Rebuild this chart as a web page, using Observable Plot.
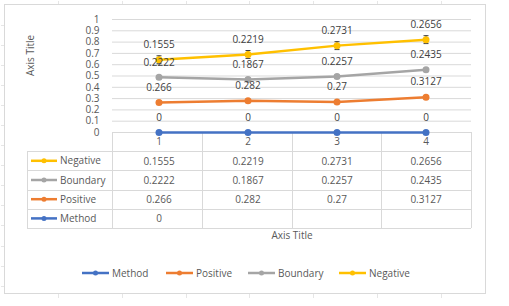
<!DOCTYPE html>
<html><head><meta charset="utf-8">
<script src="https://cdn.jsdelivr.net/npm/d3@7"></script>
<script src="https://cdn.jsdelivr.net/npm/@observablehq/plot@0.6"></script>
<style>
body{margin:0;background:#fff}
#chart svg{font-family:"Open Sans",sans-serif;display:block}
</style>
</head><body><div id="chart"></div>
<script>
// ---- data ----
const categories = ["1", "2", "3", "4"];
const seriesNames = ["Method", "Positive", "Boundary", "Negative"];
const method   = [0, 0, 0, 0];
const positive = [0.266, 0.282, 0.27, 0.3127];
const boundary = [0.2222, 0.1867, 0.2257, 0.2435];
const negative = [0.1555, 0.2219, 0.2731, 0.2656];
const methodTableText = ["0", "", "", ""];
const errMethod   = [0, 0, 0, 0];
const errPositive = [0.012, 0.012, 0.012, 0.012];
const errBoundary = [0.012, 0.012, 0.012, 0.012];
const errNegative = [0.035, 0.035, 0.035, 0.035];
const seriesColors = ["#4472C4", "#ED7D31", "#A5A5A5", "#FFC000"];
const yTicks = [0, 0.1, 0.2, 0.3, 0.4, 0.5, 0.6, 0.7, 0.8, 0.9, 1];
const tableRows = ["Negative", "Boundary", "Positive", "Method"];
const axisTitleX = "Axis Title";
const axisTitleY = "Axis Title";

// ---- build table (stacked line chart, as in the original) ----
const valuesBySeries = {Method: method, Positive: positive, Boundary: boundary, Negative: negative};
const errBySeries = {Method: errMethod, Positive: errPositive, Boundary: errBoundary, Negative: errNegative};
const tableTextBySeries = {Method: methodTableText};
const rows = [];
categories.forEach((cat, j) => {
  let cum = 0;
  seriesNames.forEach(s => {
    const v = valuesBySeries[s][j];
    cum += v;
    rows.push({cat, series: s, value: v, cum, err: errBySeries[s][j],
      tableText: tableTextBySeries[s] ? tableTextBySeries[s][j] : String(v)});
  });
});
const errRows = rows.filter(d => d.err > 0);

// ---- layout ----
const W = 509, H = 306;
const mL = 112, mR = 38, mT = 19, mB = 174;
const rowH = 19.2;
const textColor = "#595959", labelColor = "#404040", lineColor = "#D9D9D9";
const fontSize = 10;

const capSymbol = {draw(ctx, size) { const r = Math.sqrt(size / Math.PI); ctx.moveTo(-r, 0); ctx.lineTo(r, 0); }};

function decorations(index, scales, values, dims) {
  const x0 = dims.marginLeft, x1 = dims.width - dims.marginRight;
  const y0 = dims.height - dims.marginBottom;
  const n = categories.length;
  const bw = (x1 - x0) / n;
  const g = d3.create("svg:g");
  // faint worksheet cell lines peeking around the chart area
  const sheet = g.append("g").attr("stroke", "#e6e6e6");
  for (let x = 58; x < 485; x += 63.8) {
    sheet.append("line").attr("x1", Math.round(x) + 0.5).attr("x2", Math.round(x) + 0.5).attr("y1", 1).attr("y2", 4);
    sheet.append("line").attr("x1", Math.round(x) + 0.5).attr("x2", Math.round(x) + 0.5).attr("y1", 294).attr("y2", 298);
  }
  for (let y = 24.5; y < 293; y += 20.1) {
    sheet.append("line").attr("x1", 1).attr("x2", 4).attr("y1", Math.round(y) + 0.5).attr("y2", Math.round(y) + 0.5);
  }
  // chart-area border
  g.append("rect").attr("x", 4.5).attr("y", 4.5).attr("width", 481).attr("height", 289)
    .attr("fill", "none").attr("stroke", lineColor);
  // table horizontal lines
  const leftX = 27;
  for (let r = 1; r <= tableRows.length + 1; r++) {
    const y = Math.round(y0 + r * rowH) + 0.5;
    g.append("line").attr("x1", leftX).attr("x2", x1).attr("y1", y).attr("y2", y).attr("stroke", lineColor);
  }
  // table vertical lines
  for (let c = 0; c <= n; c++) {
    const x = Math.round(x0 + c * bw) + 0.5;
    g.append("line").attr("x1", x).attr("x2", x).attr("y1", y0).attr("y2", Math.round(y0 + (tableRows.length + 1) * rowH))
      .attr("stroke", lineColor);
  }
  g.append("line").attr("x1", leftX + 0.5).attr("x2", leftX + 0.5)
    .attr("y1", Math.round(y0 + rowH)).attr("y2", Math.round(y0 + (tableRows.length + 1) * rowH)).attr("stroke", lineColor);
  // legend keys in the table
  tableRows.forEach((s, r) => {
    const y = y0 + (r + 1.5) * rowH;
    const col = scales.color(s);
    g.append("line").attr("x1", 31).attr("x2", 57).attr("y1", y).attr("y2", y).attr("stroke", col).attr("stroke-width", 2.5);
    g.append("circle").attr("cx", 44).attr("cy", y).attr("r", 2.5).attr("fill", col);
    g.append("text").attr("x", 60).attr("y", y).attr("dy", "0.35em").attr("fill", textColor)
      .attr("text-anchor", "start").attr("font-size", fontSize).text(s);
  });
  // bottom legend
  const legendX = [82, 166, 248, 339];
  const ly = 273;
  seriesNames.forEach((s, i) => {
    const col = scales.color(s);
    const lx = legendX[i];
    g.append("line").attr("x1", lx).attr("x2", lx + 27).attr("y1", ly).attr("y2", ly).attr("stroke", col).attr("stroke-width", 2.5);
    g.append("circle").attr("cx", lx + 13.5).attr("cy", ly).attr("r", 2.5).attr("fill", col);
    g.append("text").attr("x", lx + 30).attr("y", ly).attr("dy", "0.35em").attr("fill", textColor)
      .attr("text-anchor", "start").attr("font-size", fontSize).text(s);
  });
  return g.node();
}

const tableTextMarks = tableRows.map((s, r) =>
  Plot.text(rows.filter(d => d.series === s), {
    x: "cat", y: 0, text: "tableText", dy: (r + 1.5) * rowH, fill: textColor, fontSize
  })
);

const chart = Plot.plot({
  width: W, height: H,
  marginLeft: mL, marginRight: mR, marginTop: mT, marginBottom: mB,
  style: {fontFamily: "'Open Sans', sans-serif", fontSize: fontSize + "px", background: "white"},
  x: {type: "band", domain: categories, padding: 0},
  y: {domain: [0, 1]},
  color: {domain: seriesNames, range: seriesColors},
  marks: [
    Plot.ruleY(yTicks, {stroke: lineColor, strokeWidth: 1}),
    Plot.axisY(yTicks, {tickSize: 0, tickPadding: 13, tickFormat: d => String(+d.toFixed(1)), label: null, fill: textColor, fontSize}),
    Plot.axisX({tickSize: 0, tickPadding: 5, label: null, fill: textColor, fontSize}),
    decorations,
    ...tableTextMarks,
    Plot.text([axisTitleX], {frameAnchor: "bottom", dy: 106, fill: textColor, fontSize}),
    Plot.text([axisTitleY], {frameAnchor: "left", rotate: -90, dx: -82, fill: textColor, fontSize}),
    Plot.line(rows, {x: "cat", y: "cum", z: "series", stroke: "series", strokeWidth: 2.5}),
    Plot.ruleX(errRows, {x: "cat", y1: d => d.cum - d.err, y2: d => d.cum + d.err, stroke: "#404040", strokeWidth: 1}),
    Plot.dot(errRows, {x: "cat", y: d => d.cum + d.err, symbol: capSymbol, r: 2.5, stroke: "#404040", fill: "none", strokeWidth: 1}),
    Plot.dot(errRows, {x: "cat", y: d => d.cum - d.err, symbol: capSymbol, r: 2.5, stroke: "#404040", fill: "none", strokeWidth: 1}),
    Plot.dot(rows, {x: "cat", y: "cum", fill: "series", r: 3.5}),
    Plot.text(rows, {x: "cat", y: "cum", text: d => String(d.value), dy: -15, fill: labelColor, fontSize})
  ]
});
document.getElementById("chart").appendChild(chart);
</script>
</body></html>
